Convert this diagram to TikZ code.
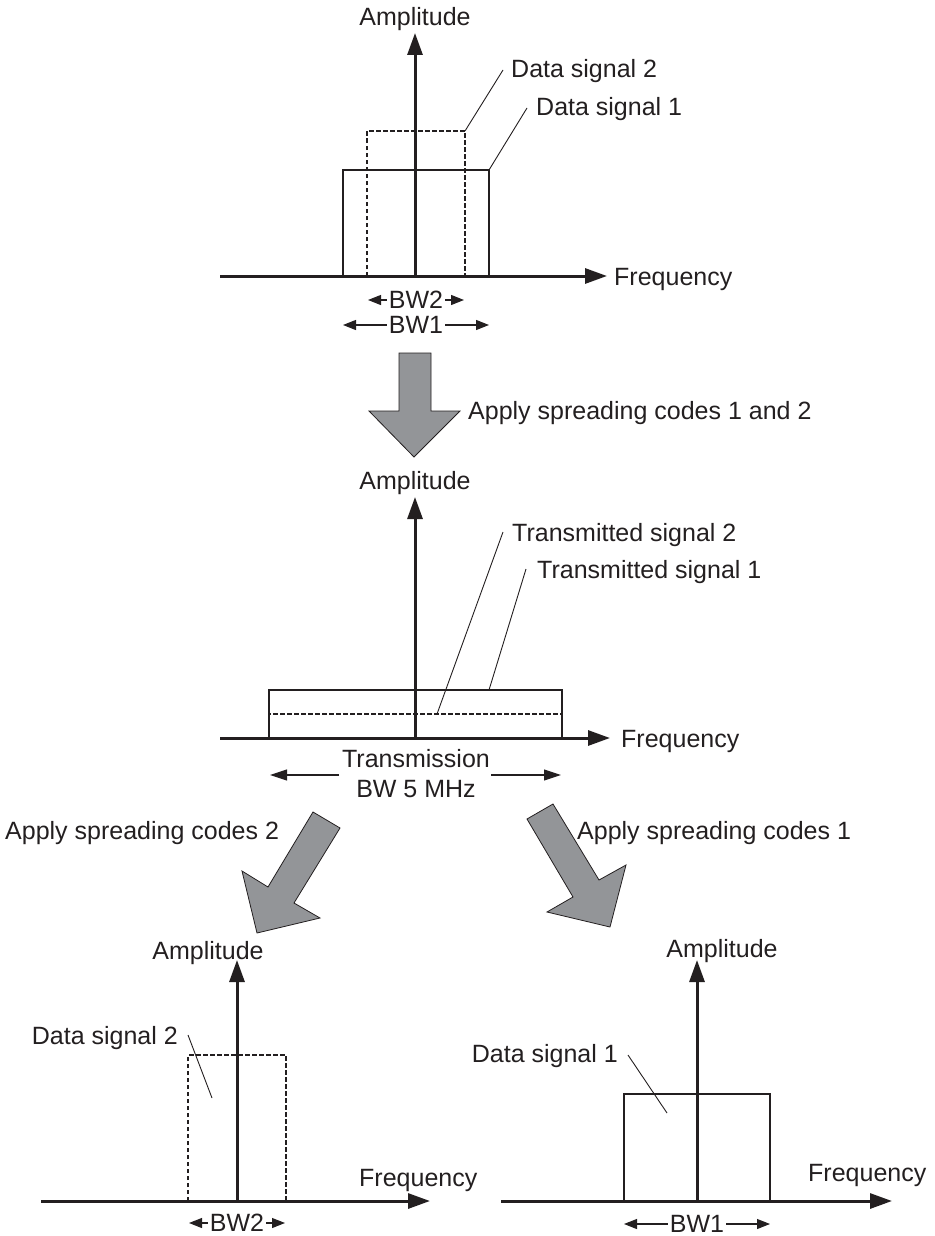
\documentclass[tikz,border=0pt]{standalone}
\usepackage{fontspec}
\setmainfont{Liberation Sans}
\usetikzlibrary{arrows.meta}
\definecolor{ink}{RGB}{35,31,32}
\definecolor{fillgray}{RGB}{147,149,152}
\begin{document}
\begin{tikzpicture}[x=1pt,y=-1pt,
  lbl/.style={inner sep=0pt, text=ink, font=\fontsize{25}{30}\selectfont},
  axisline/.style={draw=ink, line width=3pt, -{Triangle[length=22pt,width=15pt]}},
  band/.style={draw=ink, line width=1.4pt},
  bandd/.style={draw=ink, line width=2.2pt, dash pattern=on 4.5pt off 2.5pt},
  leader/.style={draw=ink, line width=0.9pt},
  bwarrow/.style={draw=ink, line width=1.1pt, {Triangle[length=13pt,width=10pt]}-{Triangle[length=13pt,width=10pt]}},
  spanarrow/.style={draw=ink, line width=1.1pt, -{Triangle[length=17pt,width=11pt]}},
  bwlbl/.style={lbl, fill=white, inner xsep=1.5pt},
  bigarrow/.style={fill=fillgray, draw=ink, line width=0.8pt, line join=miter}]

\useasboundingbox (0,0) rectangle (934,1236);

% ---------- top panel: two data signals ----------
\coordinate (s1bl) at (343,276);
\coordinate (s1tr) at (489,170);
\coordinate (s2bl) at (367,276);
\coordinate (s2tr) at (465,131);
\draw[band]  (s1bl) rectangle (s1tr);
\draw[bandd] (s2bl) rectangle (s2tr);
\coordinate (h1a) at (220,276);
\coordinate (h1b) at (607,276);
\coordinate (v1a) at (415,276);
\coordinate (v1b) at (415,33);
\draw[axisline] (h1a) -- (h1b);
\draw[axisline] (v1a) -- (v1b);
\node[lbl, anchor=base] (amp1) at (415,26) {Amplitude};
\node[lbl, anchor=base west] (freq1) at (614,285) {Frequency};
\node[lbl, anchor=base west] (ds2a) at (511,78) {Data signal 2};
\node[lbl, anchor=base west] (ds1a) at (536,116) {Data signal 1};
\coordinate (l2a) at (503,70);
\coordinate (l1a) at (527,108);
\draw[leader] (s2tr) -- (l2a);
\draw[leader] (s1tr) -- (l1a);
\coordinate (bw2al) at (368,300);
\coordinate (bw2ar) at (464,300);
\draw[bwarrow] (bw2al) -- (bw2ar);
\node[bwlbl] (bw2a) at (416,300) {BW2};
\coordinate (bw1al) at (343,325);
\coordinate (bw1ar) at (489,325);
\draw[bwarrow] (bw1al) -- (bw1ar);
\node[bwlbl] (bw1a) at (416,325) {BW1};

% ---------- spreading step ----------
\draw[bigarrow] (399,353) -- (431,353) -- (431,411) -- (460,411) -- (414,457)
  -- (369,411) -- (399,411) -- cycle;
\node[lbl, anchor=base west] (apply12) at (468,419) {Apply spreading codes 1 and 2};

% ---------- middle panel: transmitted signals ----------
\coordinate (t1bl) at (269,738);
\coordinate (t1tr) at (562,690);
\coordinate (t2tr) at (562,714);
\draw[band]  (t1bl) rectangle (t1tr);
\draw[bandd] (t1bl) rectangle (t2tr);
\coordinate (h2a) at (220,738);
\coordinate (h2b) at (610,738);
\coordinate (v2a) at (415,738);
\coordinate (v2b) at (415,497);
\draw[axisline] (h2a) -- (h2b);
\draw[axisline] (v2a) -- (v2b);
\node[lbl, anchor=base] (amp2) at (415,489) {Amplitude};
\node[lbl, anchor=base west] (freq2) at (621,747) {Frequency};
\node[lbl, anchor=base west] (ts2) at (512,541) {Transmitted signal 2};
\node[lbl, anchor=base west] (ts1) at (537,578) {Transmitted signal 1};
\coordinate (p2) at (437,714);
\coordinate (p1) at (489,690);
\coordinate (l2b) at (503,532);
\coordinate (l1b) at (526,569);
\draw[leader] (p2) -- (l2b);
\draw[leader] (p1) -- (l1b);
\node[lbl, anchor=base] (trans) at (416,767) {Transmission};
\node[lbl, anchor=base] (bw5) at (416,797) {BW 5 MHz};
\coordinate (tl0) at (339,775);
\coordinate (tl1) at (270,775);
\coordinate (tr0) at (491,775);
\coordinate (tr1) at (561,775);
\draw[spanarrow] (tl0) -- (tl1);
\draw[spanarrow] (tr0) -- (tr1);

% ---------- despreading steps ----------
\draw[bigarrow] (313,812) -- (340,828) -- (294,903) -- (320,918) -- (257,933)
  -- (242,871) -- (268,887) -- cycle;
\node[lbl, anchor=base west] (apply2) at (5,839) {Apply spreading codes 2};
\draw[bigarrow] (553,804) -- (527,819) -- (573,897) -- (547,912) -- (610,927)
  -- (626,865) -- (599,880) -- cycle;
\node[lbl, anchor=base west] (apply1) at (577,839) {Apply spreading codes 1};

% ---------- bottom left: recovered data signal 2 ----------
\coordinate (r2bl) at (188,1201);
\coordinate (r2tr) at (286,1055);
\draw[bandd] (r2bl) rectangle (r2tr);
\coordinate (h3a) at (41,1201);
\coordinate (h3b) at (430,1201);
\coordinate (v3a) at (237,1201);
\coordinate (v3b) at (237,960);
\draw[axisline] (h3a) -- (h3b);
\draw[axisline] (v3a) -- (v3b);
\node[lbl, anchor=base] (amp3) at (208,959) {Amplitude};
\node[lbl, anchor=base west] (freq3) at (359,1186) {Frequency};
\node[lbl, anchor=base east] (ds2b) at (178,1044) {Data signal 2};
\coordinate (l3a) at (188,1035);
\coordinate (l3b) at (212,1098);
\draw[leader] (l3a) -- (l3b);
\coordinate (bw2bl) at (189,1223);
\coordinate (bw2br) at (285,1223);
\draw[bwarrow] (bw2bl) -- (bw2br);
\node[bwlbl] (bw2b) at (237,1223) {BW2};

% ---------- bottom right: recovered data signal 1 ----------
\coordinate (r1bl) at (624,1201);
\coordinate (r1tr) at (770,1094);
\draw[band] (r1bl) rectangle (r1tr);
\coordinate (h4a) at (501,1201);
\coordinate (h4b) at (892,1201);
\coordinate (v4a) at (697,1201);
\coordinate (v4b) at (697,960);
\draw[axisline] (h4a) -- (h4b);
\draw[axisline] (v4a) -- (v4b);
\node[lbl, anchor=base] (amp4) at (722,957) {Amplitude};
\node[lbl, anchor=base west] (freq4) at (808,1181) {Frequency};
\node[lbl, anchor=base east] (ds1b) at (618,1062) {Data signal 1};
\coordinate (l4a) at (628,1055);
\coordinate (l4b) at (667,1113);
\draw[leader] (l4a) -- (l4b);
\coordinate (bw1bl) at (624,1224);
\coordinate (bw1br) at (770,1224);
\draw[bwarrow] (bw1bl) -- (bw1br);
\node[bwlbl] (bw1b) at (697,1224) {BW1};
\end{tikzpicture}
\end{document}
